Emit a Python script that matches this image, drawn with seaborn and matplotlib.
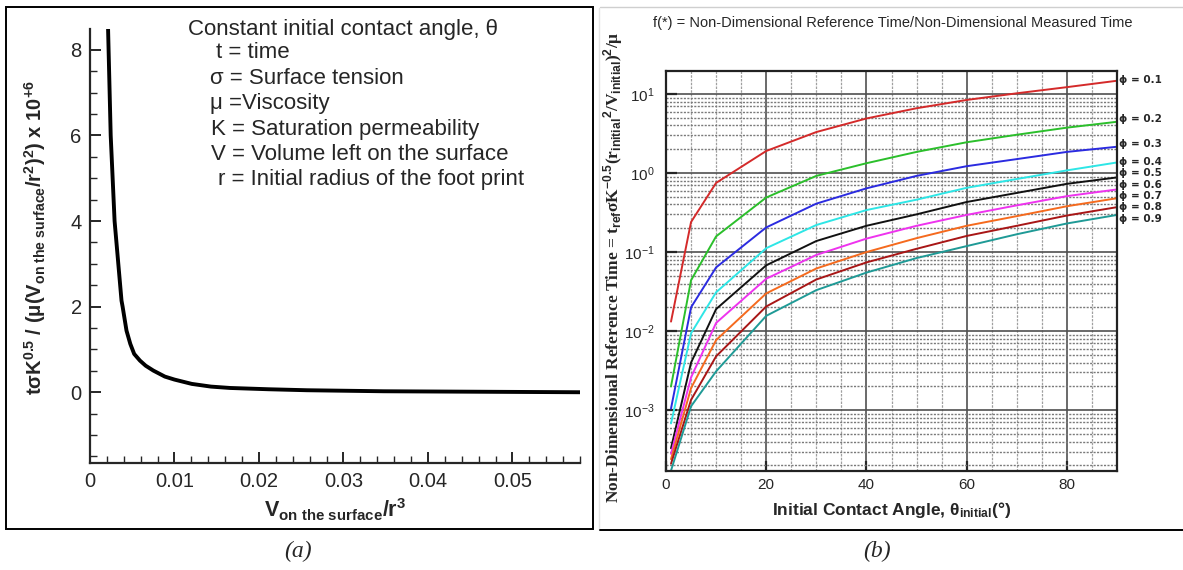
import numpy as np
import pandas as pd
import matplotlib
matplotlib.use("Agg")
import matplotlib.pyplot as plt
import seaborn as sns
from matplotlib.ticker import MultipleLocator, LogLocator, NullFormatter, FixedLocator

# ---------------- data: panel (a) ----------------
va_ratio = [0.00214, 0.00245, 0.00291, 0.00373, 0.00386, 0.00432, 0.00477, 0.00523,
            0.00591, 0.00659, 0.0075, 0.00886, 0.0100, 0.01205, 0.01432, 0.01659,
            0.02114, 0.02568, 0.03477, 0.0582]
time_a = [8.48, 6.0, 4.0, 2.14, 2.0, 1.44, 1.13, 0.895,
          0.74, 0.62, 0.506, 0.366, 0.296, 0.195, 0.132, 0.10,
          0.07, 0.047, 0.023, 0.0]

# ---------------- data: panel (b) ----------------
angles = [1, 5, 10, 20, 30, 40, 50, 60, 70, 80, 90]
phi_labels = ["0.1", "0.2", "0.3", "0.4", "0.5", "0.6", "0.7", "0.8", "0.9"]
phi_01 = [0.0132, 0.24, 0.75, 1.9, 3.3, 4.9, 6.6, 8.4, 10.2, 12.2, 14.7]
phi_02 = [0.0020, 0.044, 0.158, 0.49, 0.92, 1.33, 1.85, 2.45, 3.05, 3.75, 4.45]
phi_03 = [0.00105, 0.020, 0.064, 0.205, 0.41, 0.64, 0.92, 1.22, 1.5, 1.85, 2.15]
phi_04 = [0.00068, 0.0094, 0.031, 0.112, 0.22, 0.34, 0.46, 0.65, 0.84, 1.08, 1.36]
phi_05 = [0.00033, 0.0040, 0.019, 0.068, 0.138, 0.215, 0.30, 0.43, 0.56, 0.73, 0.88]
phi_06 = [0.00028, 0.0026, 0.0127, 0.046, 0.092, 0.148, 0.215, 0.295, 0.39, 0.51, 0.62]
phi_07 = [0.00024, 0.0019, 0.0077, 0.030, 0.062, 0.100, 0.150, 0.215, 0.285, 0.38, 0.48]
phi_08 = [0.00021, 0.00135, 0.0048, 0.0205, 0.045, 0.074, 0.110, 0.160, 0.215, 0.29, 0.37]
phi_09 = [0.000172, 0.00112, 0.0031, 0.0156, 0.033, 0.055, 0.084, 0.119, 0.168, 0.23, 0.295]
series_b = [phi_01, phi_02, phi_03, phi_04, phi_05, phi_06, phi_07, phi_08, phi_09]

colors_b = ["#d42a2a", "#2bbf2b", "#2b2be0", "#2ee6e6", "#111111",
            "#ee33ee", "#f56a1e", "#a81616", "#1f9a96"]
# label anchor heights (pixels from figure top) for the phi tags
label_px = [80, 119, 144, 162, 173.5, 185, 196, 207, 218.5]

sns.set_style("ticks")
plt.rcParams['font.family'] = ['Liberation Sans', 'DejaVu Sans']
plt.rcParams['mathtext.fontset'] = 'custom'
plt.rcParams['mathtext.rm'] = 'Liberation Sans'
plt.rcParams['mathtext.it'] = 'Liberation Sans:italic'
plt.rcParams['mathtext.bf'] = 'Liberation Sans:bold'

W, H = 1183, 570
fig = plt.figure(figsize=(W / 100, H / 100), dpi=100)
fig.patch.set_facecolor("white")


def rect(l, t, r, b):
    return [l / W, 1 - b / H, (r - l) / W, (b - t) / H]


# ---------------- panel (a) ----------------
axa = fig.add_axes(rect(90, 29.3, 580, 463.3))
dfa = pd.DataFrame({"v": va_ratio, "t": time_a})
sns.lineplot(data=dfa, x="v", y="t", ax=axa, color="black", lw=2.8, sort=False)
axa.set_xlim(0, 0.058)
axa.set_ylim(-1.66, 8.48)
for s in ["top", "right"]:
    axa.spines[s].set_visible(False)
for s in ["left", "bottom"]:
    axa.spines[s].set_linewidth(1.6)
axa.xaxis.set_major_locator(FixedLocator([0, 0.01, 0.02, 0.03, 0.04, 0.05]))
axa.xaxis.set_major_formatter(plt.FuncFormatter(lambda v, p: "0" if v == 0 else f"{v:.2f}"))
axa.xaxis.set_minor_locator(MultipleLocator(0.002))
axa.yaxis.set_major_locator(FixedLocator([0, 2, 4, 6, 8]))
axa.yaxis.set_minor_locator(MultipleLocator(0.5))
axa.tick_params(which="major", direction="in", length=8, width=1.4, labelsize=14.5, pad=6)
axa.tick_params(which="minor", direction="in", length=5, width=1.0)
axa.set_xlabel(r"V$_{\mathbf{on\ the\ surface}}$/r$^{\mathbf{3}}$", fontsize=15.5, labelpad=4)
axa.set_ylabel(r"tσK$^{\mathbf{0.5}}$ / (μ(V$_{\mathbf{on\ the\ surface}}$/r$^{\mathbf{2}}$)$^{\mathbf{2}}$) x 10$^{\mathbf{+6}}$",
               fontsize=14.5, fontweight="bold")
axa.yaxis.set_label_coords(-0.085, 0.52)
axa.xaxis.label.set_fontweight("bold")

text_lines = [("Constant initial contact angle, θ", 187.5, 29.3),
              ("t = time", 216, 53),
              ("σ = Surface tension", 210, 79),
              ("μ =Viscosity", 210, 104),
              ("K = Saturation permeability", 211, 129),
              ("V = Volume left on the surface", 211, 154),
              ("r = Initial radius of the foot print", 218, 180)]
for txt, x, y in text_lines:
    fig.text(x / W, 1 - y / H, txt, fontsize=16, ha="left", va="center")

# frame around panel (a) and panel separators
fig.add_artist(plt.Rectangle((5.7 / W, 1 - 529 / H), (592.7 - 5.7) / W, (529 - 7.3) / H,
                             transform=fig.transFigure, fill=False, ec="black", lw=1.4))
fig.add_artist(plt.Line2D([599 / W, 599 / W], [1 - 8 / H, 1 - 530 / H],
                          transform=fig.transFigure, color="#e4e4e4", lw=1.0))
fig.add_artist(plt.Line2D([600 / W, 1], [1 - 7 / H, 1 - 7 / H],
                          transform=fig.transFigure, color="#cfcfcf", lw=1.0))
fig.add_artist(plt.Line2D([600 / W, 1], [1 - 530 / H, 1 - 530 / H],
                          transform=fig.transFigure, color="black", lw=1.4))
fig.text(298 / W, 1 - 551 / H, "(a)", fontsize=17, family="Liberation Serif",
         style="italic", ha="center", va="center")
fig.text(877 / W, 1 - 551 / H, "(b)", fontsize=17, family="Liberation Serif",
         style="italic", ha="center", va="center")

# ---------------- panel (b) ----------------
axb = fig.add_axes(rect(666, 70.7, 1117, 471))
axb.set_yscale("log")
for vals, col in zip(series_b, colors_b):
    sns.lineplot(x=angles, y=vals, ax=axb, color=col, lw=1.4)
axb.set_xlim(0, 90)
axb.set_ylim(1.7e-4, 19.7)
axb.xaxis.set_major_locator(MultipleLocator(20))
axb.xaxis.set_minor_locator(MultipleLocator(5))
axb.yaxis.set_major_locator(LogLocator(base=10))
axb.yaxis.set_minor_locator(LogLocator(base=10, subs=np.arange(2, 10)))
axb.yaxis.set_minor_formatter(NullFormatter())
axb.grid(which="minor", axis="x", color="#a0a0a0", lw=0.9, ls=(0, (2, 1)))
axb.grid(which="minor", axis="y", color="#7a7a7a", lw=1.0, ls=(0, (1.5, 1)))
axb.grid(which="major", axis="both", color="#505050", lw=1.2, ls="-")
axb.set_axisbelow(True)
for s in axb.spines.values():
    s.set_linewidth(1.6)
    s.set_color("#222222")
axb.tick_params(which="major", direction="in", length=7, width=1.6, labelsize=11, pad=5)
axb.tick_params(which="minor", length=0)
axb.tick_params(axis="y", which="major", length=8, pad=8)
axb.set_xlabel(r"Initial Contact Angle, θ$_{\mathbf{initial}}$(°)", fontsize=12.5,
               fontweight="bold", labelpad=6)
axb.set_ylabel(r"Non-Dimensional Reference Time = t$_{\mathbf{ref}}$σK$^{\mathbf{-0.5}}$(r$_{\mathbf{initial}}$$^{\mathbf{2}}$/V$_{\mathbf{initial}}$)$^{\mathbf{2}}$/μ",
               fontsize=12.5, fontweight="bold", family="Liberation Serif")
axb.yaxis.set_label_coords(-0.092, 0.51)
fig.text(893 / W, 1 - 22.7 / H,
         "f(*) = Non-Dimensional Reference Time/Non-Dimensional Measured Time",
         fontsize=10.5, ha="center", va="center")

for vals, lab, ly, col in zip(series_b, phi_labels, label_px, colors_b):
    fig.text(1119 / W, 1 - ly / H, "ϕ = " + lab, fontsize=7.5, fontweight="bold",
             family=["DejaVu Sans"], ha="left", va="center")

fig.savefig("out.png", dpi=100, facecolor="white")
